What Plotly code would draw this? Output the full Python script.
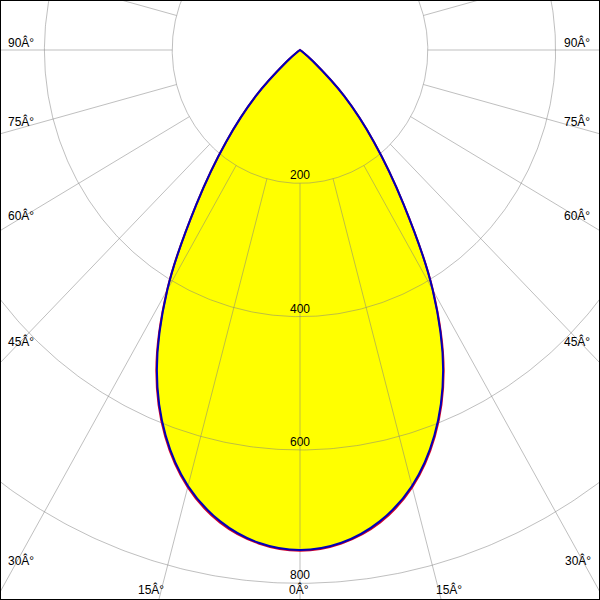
import numpy as np
import plotly.graph_objects as go

# Luminous intensity (cd) vs. gamma angle (deg from nadir)
angles = [0, 5, 10, 15, 20, 25, 30, 35, 40, 45, 50, 55, 60, 65, 70, 75, 80, 85, 90]
c0_c180 = [751, 743, 720, 679, 617, 532, 416, 283, 180, 98, 27, 4, 0, 0, 0, 0, 0, 0, 0]
c90_c270 = [750, 742, 718, 677, 615, 530, 415, 283, 180, 98, 27, 4, 0, 0, 0, 0, 0, 0, 0]

ring_values = [200, 400, 600, 800, 1000]
ring_labels = ["200", "400", "600", "800"]
spoke_angles = list(range(0, 360, 15))
angle_labels = ["0Â°", "15Â°", "30Â°", "45Â°", "60Â°", "75Â°", "90Â°"]

GRID = "rgba(128,128,128,0.5)"


def to_xy(ang, vals):
    a = np.array(ang, dtype=float)
    v = np.array(vals, dtype=float)
    aa = np.concatenate([-a[::-1], a[1:]])
    vv = np.concatenate([v[::-1], v[1:]])
    th = np.deg2rad(aa)
    return vv * np.sin(th), -vv * np.cos(th)


fig = go.Figure()

# yellow fill
fx, fy = to_xy(angles, c0_c180)
fig.add_trace(go.Scatter(x=fx, y=fy, mode="lines", fill="toself", fillcolor="#FFFF00",
                         line=dict(width=0, color="#FFFF00", shape="spline"),
                         hoverinfo="skip", showlegend=False))

# grid circles
t = np.linspace(0, 2 * np.pi, 721)
for rv in ring_values:
    fig.add_trace(go.Scatter(x=rv * np.sin(t), y=rv * np.cos(t), mode="lines",
                             line=dict(color=GRID, width=1), hoverinfo="skip", showlegend=False))

# grid spokes
sx, sy = [], []
for a in spoke_angles:
    th = np.deg2rad(a)
    sx += [ring_values[0] * np.sin(th), 1200 * np.sin(th), None]
    sy += [-ring_values[0] * np.cos(th), -1200 * np.cos(th), None]
fig.add_trace(go.Scatter(x=sx, y=sy, mode="lines", line=dict(color=GRID, width=1),
                         hoverinfo="skip", showlegend=False))

# curves
rx, ry = to_xy(angles, c0_c180)
fig.add_trace(go.Scatter(x=rx, y=ry, mode="lines", line=dict(color="rgb(215,0,40)", width=2, shape="spline"),
                         name="C0-C180", showlegend=False))
bx, by = to_xy(angles, c90_c270)
fig.add_trace(go.Scatter(x=bx, y=by, mode="lines", line=dict(color="rgb(0,0,185)", width=2, shape="spline"),
                         name="C90-C270", showlegend=False))

annotations = []
FONT = dict(family="Liberation Sans, Arial, sans-serif", size=12, color="black")
for i, lab in enumerate(ring_labels):
    annotations.append(dict(x=0, y=-ring_values[i], xref="x", yref="y", text=lab, showarrow=False,
                            yanchor="bottom", xanchor="center", font=FONT, yshift=-1))

# angle label pixel centres (x_left, x_right, y) in the 600x600 frame
label_pos = {
    "0Â°": (299, None, 589),
    "15Â°": (151, 449, 589),
    "30Â°": (21, 578, 560),
    "45Â°": (21, 577, 342),
    "60Â°": (21, 577, 215),
    "75Â°": (21, 577, 121),
    "90Â°": (21, 577, 42),
}
for lab in angle_labels:
    xl, xr, yp = label_pos[lab]
    for xp in (xl, xr):
        if xp is None:
            continue
        annotations.append(dict(x=xp / 600, y=1 - yp / 600, xref="paper", yref="paper", text=lab,
                                showarrow=False, xanchor="center", yanchor="middle", font=FONT))

fig.update_layout(
    width=600, height=600, margin=dict(l=0, r=0, t=0, b=0),
    paper_bgcolor="white", plot_bgcolor="white",
    xaxis=dict(range=[-469.5, 469.5], visible=False, fixedrange=True),
    yaxis=dict(range=[-825, 75], visible=False, fixedrange=True),
    annotations=annotations,
    shapes=[dict(type="rect", xref="paper", yref="paper", x0=0, y0=0, x1=1, y1=1,
                 line=dict(color="black", width=2))],
)

fig.write_html("out.html", config={"staticPlot": True},
               post_script="document.body.style.margin='0';document.body.style.overflow='hidden';")
